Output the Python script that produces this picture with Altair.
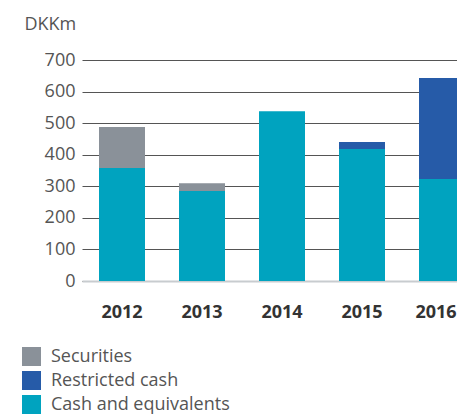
import altair as alt
import pandas as pd

years = ["2012", "2013", "2014", "2015", "2016"]
cash = [358, 285, 538, 418, 323]
restricted = [0, 0, 0, 22, 320]
securities = [130, 25, 0, 0, 0]

series = ["Securities", "Restricted cash", "Cash and equivalents"]
colors = ["#8a9199", "#265ba8", "#00a3bf"]
y_ticks = [0, 100, 200, 300, 400, 500, 600, 700]

rows = []
for i, y in enumerate(years):
    rows.append({"year": y, "series": "Cash and equivalents", "value": cash[i], "order": 0})
    rows.append({"year": y, "series": "Restricted cash", "value": restricted[i], "order": 1})
    rows.append({"year": y, "series": "Securities", "value": securities[i], "order": 2})
df = pd.DataFrame(rows)

font = "Open Sans"

chart = alt.Chart(df).mark_bar().encode(
    x=alt.X("year:N", sort=years,
            scale=alt.Scale(range=[0, 400], paddingInner=0.425, paddingOuter=0.2125),
            axis=alt.Axis(title=None, labelAngle=0, domain=True, domainColor="#c8cccf",
                          domainWidth=2, ticks=False,
                          labelFont=font, labelFontSize=18, labelFontWeight="bold",
                          labelColor="#333333", labelPadding=22,
                          labelOffset=alt.expr("datum.value == '2016' ? -6 : 0"))),
    y=alt.Y("value:Q", stack="zero",
            scale=alt.Scale(domain=[0, 700]),
            axis=alt.Axis(title="DKKm", values=y_ticks,
                          domain=False, ticks=False, grid=True, gridColor="#555555",
                          gridWidth=1, labelFont=font, labelFontSize=18,
                          labelColor="#555555", labelPadding=7,
                          titleAngle=0, titleAlign="left", titleBaseline="alphabetic",
                          titleX=-58, titleY=-31, titleFont=font, titleFontSize=18,
                          titleFontWeight="normal", titleColor="#555555")),
    color=alt.Color("series:N", scale=alt.Scale(domain=series, range=colors),
                    legend=alt.Legend(title=None, orient="none", legendX=-60, legendY=287,
                                      symbolType="square", symbolSize=361,
                                      symbolStrokeWidth=0, rowPadding=5,
                                      labelFont=font, labelFontSize=18, labelLimit=0,
                                      labelColor="#555555", labelOffset=10)),
    order=alt.Order("order:Q"),
).properties(
    width=375, height=221,
    padding={"left": 74, "top": 52, "right": 0, "bottom": 140},
    autosize=alt.AutoSizeParams(type="none"),
).configure_view(stroke=None)

chart.save("out.html", embed_options={"renderer": "svg", "actions": False})
